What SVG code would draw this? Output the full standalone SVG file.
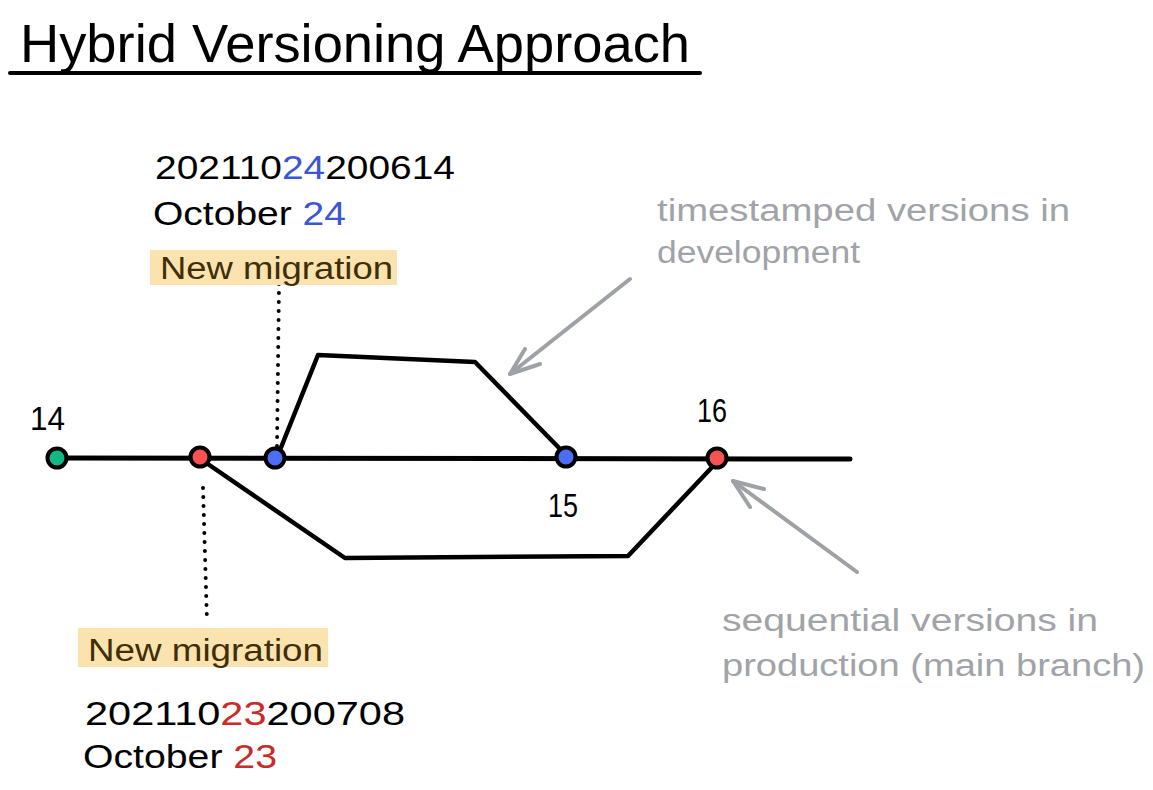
<svg xmlns="http://www.w3.org/2000/svg" width="1153" height="790" viewBox="0 0 1153 790">
  <style>
    text { font-family: "Liberation Sans", "DejaVu Sans", sans-serif; }
    .blk { fill: #000000; }
    .big { font-size: 34px; }
    .hl-text { fill: #3f2e06; font-size: 31px; }
    .hl { fill: #fbe3b0; }
    .gray { fill: #a0a3a7; font-size: 31px; }
    .num { font-size: 33px; fill: #000; }
    .blue { fill: #3b55d6; }
    .red { fill: #c92a2a; }
    .line { stroke: #000; stroke-width: 5; fill: none; stroke-linecap: round; stroke-linejoin: round; }
    .branch { stroke: #000; stroke-width: 4.5; fill: none; stroke-linecap: round; stroke-linejoin: round; }
    .dots { stroke: #000; stroke-width: 4; stroke-dasharray: 0 9; stroke-linecap: round; fill: none; }
    .garrow { stroke: #9ea1a5; stroke-width: 4; fill: none; stroke-linecap: round; stroke-linejoin: round; }
    .node { stroke: #000; stroke-width: 4; }
  </style>

  <g id="title">
    <text x="20" y="62" font-size="54" class="blk" textLength="670" lengthAdjust="spacingAndGlyphs">Hybrid Versioning Approach</text>
    <line x1="10" y1="73" x2="700" y2="73" stroke="#000" stroke-width="4" stroke-linecap="round"/>
  </g>

  <g id="connectors">
    <line class="line" x1="55" y1="458" x2="850" y2="459"/>
    <polyline class="branch" points="278,455 318,355 475,362 563,452"/>
    <polyline class="branch" points="202,460 345,558 628,556 716,463"/>
    <line class="dots" x1="279" y1="284" x2="277" y2="446"/>
    <line class="dots" x1="203" y1="488" x2="207" y2="622"/>
    <g id="arrow-dev">
      <line class="garrow" x1="630" y1="279" x2="510" y2="374"/>
      <polyline class="garrow" points="525,349 510,374 540,364"/>
    </g>
    <g id="arrow-prod">
      <line class="garrow" x1="857" y1="572" x2="733" y2="481"/>
      <polyline class="garrow" points="750,507 733,481 764,489"/>
    </g>
  </g>

  <g id="node-14">
    <circle class="node" cx="57" cy="458" r="9.5" fill="#12b886"/>
    <text class="num" x="30" y="430" textLength="35" lengthAdjust="spacingAndGlyphs">14</text>
  </g>
  <g id="node-red-1">
    <circle class="node" cx="200" cy="457" r="9.5" fill="#fa5252"/>
  </g>
  <g id="node-blue-1">
    <circle class="node" cx="275" cy="458" r="9.5" fill="#4c6ef5"/>
  </g>
  <g id="node-15">
    <circle class="node" cx="566" cy="457" r="9.5" fill="#4c6ef5"/>
    <text class="num" x="548" y="517" textLength="30" lengthAdjust="spacingAndGlyphs">15</text>
  </g>
  <g id="node-16">
    <circle class="node" cx="717" cy="458" r="9.5" fill="#fa5252"/>
    <text class="num" x="697" y="422" textLength="30" lengthAdjust="spacingAndGlyphs">16</text>
  </g>

  <g id="label-top">
    <text class="big blk" x="155" y="179" textLength="300" lengthAdjust="spacingAndGlyphs">202110<tspan class="blue">24</tspan>200614</text>
    <text class="big blk" x="153" y="225" textLength="193" lengthAdjust="spacingAndGlyphs">October <tspan class="blue">24</tspan></text>
    <rect class="hl" x="150" y="250" width="247" height="35"/>
    <text class="hl-text" x="160" y="279" textLength="233" lengthAdjust="spacingAndGlyphs">New migration</text>
  </g>

  <g id="label-bottom">
    <rect class="hl" x="78" y="628" width="250" height="39"/>
    <text class="hl-text" x="88" y="661" textLength="235" lengthAdjust="spacingAndGlyphs">New migration</text>
    <text class="big blk" x="85" y="725" textLength="320" lengthAdjust="spacingAndGlyphs">202110<tspan class="red">23</tspan>200708</text>
    <text class="big blk" x="83" y="768" textLength="194" lengthAdjust="spacingAndGlyphs">October <tspan class="red">23</tspan></text>
  </g>

  <g id="note-dev">
    <text class="gray" x="657" y="221" textLength="413" lengthAdjust="spacingAndGlyphs">timestamped versions in</text>
    <text class="gray" x="657" y="263" textLength="203" lengthAdjust="spacingAndGlyphs">development</text>
  </g>

  <g id="note-prod">
    <text class="gray" x="722" y="631" textLength="376" lengthAdjust="spacingAndGlyphs">sequential versions in</text>
    <text class="gray" x="722" y="676" textLength="423" lengthAdjust="spacingAndGlyphs">production (main branch)</text>
  </g>
</svg>
